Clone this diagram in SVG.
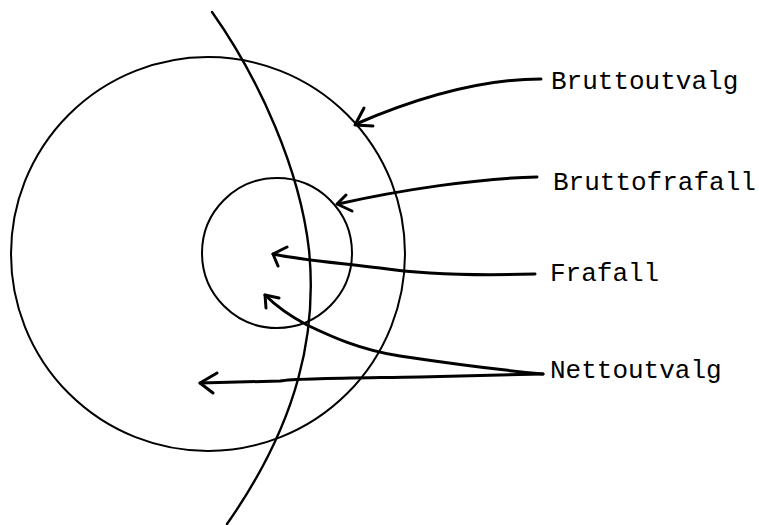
<svg xmlns="http://www.w3.org/2000/svg" width="759" height="525" viewBox="0 0 759 525">
<style>
.ring{fill:none;stroke:#000;stroke-width:2}
.arc{fill:none;stroke:#000;stroke-width:2.4;stroke-linecap:round}
.conn{fill:none;stroke:#000;stroke-width:3;stroke-linecap:round;stroke-linejoin:round}
.lbl{font-family:"Liberation Mono","DejaVu Sans Mono",monospace;font-size:26px;fill:#000}
</style>
<rect width="759" height="525" fill="#fff"/>
<g id="big-circle"><circle class="ring" cx="208" cy="254" r="197"/></g>
<g id="small-circle"><circle class="ring" cx="277" cy="253" r="75"/></g>
<g id="boundary-arc"><path class="arc" d="M212,12 C260,80 300,170 309,250 C317,330 300,420 227,524"/></g>
<g id="label-bruttoutvalg"><text class="lbl" x="551" y="89">Bruttoutvalg</text></g>
<g id="label-bruttofrafall"><text class="lbl" x="553" y="190">Bruttofrafall</text></g>
<g id="label-frafall"><text class="lbl" x="550" y="281">Frafall</text></g>
<g id="label-nettoutvalg"><text class="lbl" x="550" y="378">Nettoutvalg</text></g>
<g id="connectors">
<path class="conn" d="M541,79 C490,79 430,92 356,124"/>
<polyline class="conn" points="364,108 355,125 373,126"/>
<path class="conn" d="M537,177 C480,178 400,190 338,204"/>
<polyline class="conn" points="346,195 337,204 352,211"/>
<path class="conn" d="M535,274 C470,276 420,274 380,268 C340,263 300,260 273,254"/>
<polyline class="conn" points="287,247 273,254 278,266"/>
<path class="conn" d="M543,374 C500,370 440,362 400,356 C360,350 330,336 307,325 C290,316 276,306 265,295"/>
<polyline class="conn" points="279,298 265,295 266,308"/>
<path class="conn" d="M543,374 L420,377 C360,378 300,378 280,381 L200,383"/>
<polyline class="conn" points="217,373 200,383 213,393"/>
</g>
</svg>
